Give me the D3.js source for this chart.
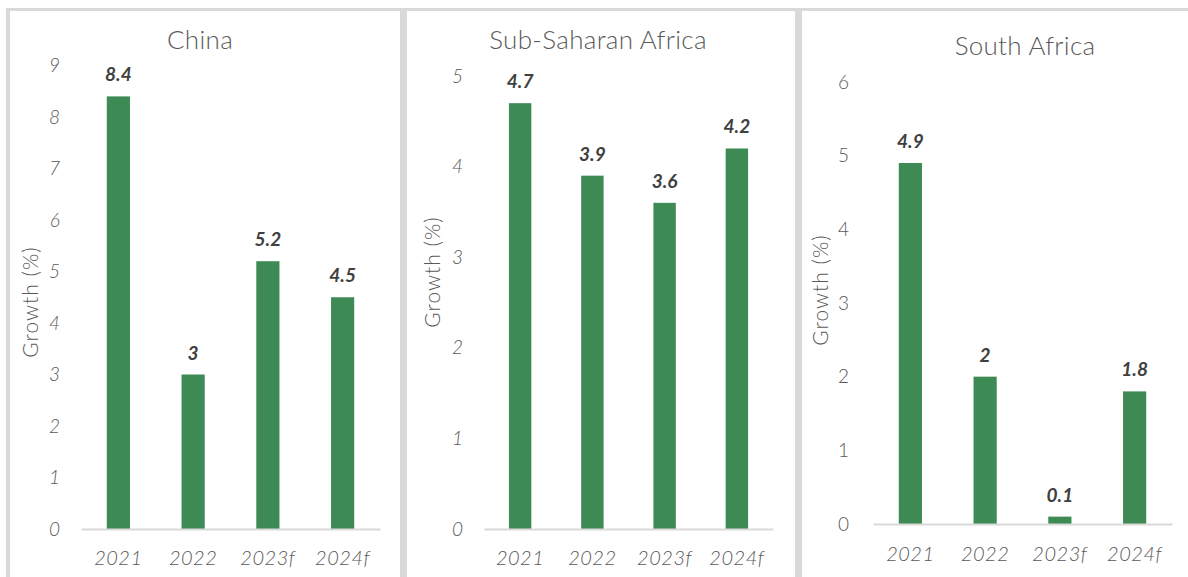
<!DOCTYPE html>
<html>
<head>
<meta charset="utf-8">
<script src="https://cdn.jsdelivr.net/npm/d3@7"></script>
<style>
  html, body { margin: 0; padding: 0; background: #ffffff; }
  svg { display: block; }
</style>
</head>
<body>
<svg id="chart" width="1188" height="577"></svg>
<script>
// ---- data ----
const categories = ["2021", "2022", "2023f", "2024f"];
const panelTitles = ["China", "Sub-Saharan Africa", "South Africa"];
const chinaValues = [8.4, 3, 5.2, 4.5];
const ssaValues = [4.7, 3.9, 3.6, 4.2];
const southAfricaValues = [4.9, 2, 0.1, 1.8];
const chinaTicks = [0, 1, 2, 3, 4, 5, 6, 7, 8, 9];
const ssaTicks = [0, 1, 2, 3, 4, 5];
const southAfricaTicks = [0, 1, 2, 3, 4, 5, 6];
const yAxisTitle = "Growth (%)";

// ---- layout (styles/positions) ----
const layouts = [
  { x0: 81, x1: 380, y0: 529, yMaxPx: 65.5, max: 9, tickItalic: true, tickX: 60, ytX: 38, ytY: 302, titleX: 200, titleY: 49, xlabY: 565 },
  { x0: 484, x1: 773, y0: 529, yMaxPx: 76, max: 5, tickItalic: true, tickX: 463, ytX: 440, ytY: 272, titleX: 598, titleY: 49, xlabY: 565 },
  { x0: 873, x1: 1172, y0: 524, yMaxPx: 82, max: 6, tickItalic: false, tickX: 849, ytX: 828, ytY: 290, titleX: 1025, titleY: 55, xlabY: 561 }
];
const seriesList = [chinaValues, ssaValues, southAfricaValues];
const tickList = [chinaTicks, ssaTicks, southAfricaTicks];

const FONT = "Lato, 'Open Sans', sans-serif";
const GREEN = "#3d8a55";
const TEXT = "#595959";
const GRID = "#d9d9d9";

const svg = d3.select("#chart");

// panel frame: light gray separators
svg.append("rect").attr("x", 6).attr("y", 8).attr("width", 1182).attr("height", 3).attr("fill", GRID);
svg.append("rect").attr("x", 6).attr("y", 8).attr("width", 4).attr("height", 569).attr("fill", GRID);
svg.append("rect").attr("x", 400).attr("y", 8).attr("width", 7).attr("height", 569).attr("fill", GRID);
svg.append("rect").attr("x", 795).attr("y", 8).attr("width", 7).attr("height", 569).attr("fill", GRID);

layouts.forEach((L, i) => {
  const values = seriesList[i];
  const ticks = tickList[i];
  const g = svg.append("g");

  const x = d3.scaleBand().domain(categories).range([L.x0, L.x1]).paddingInner(0.69).paddingOuter(0.345);
  const y = d3.scaleLinear().domain([0, L.max]).range([L.y0, L.yMaxPx]);

  // title
  g.append("text")
    .attr("x", L.titleX).attr("y", L.titleY)
    .attr("text-anchor", "middle")
    .attr("font-family", FONT).attr("font-size", 26).attr("font-weight", 300)
    .attr("letter-spacing", 0.3)
    .attr("fill", TEXT)
    .text(panelTitles[i]);

  // y axis tick labels
  const yAxis = d3.axisLeft(y).tickValues(ticks).tickSize(0).tickPadding(0).tickFormat(d3.format("d"));
  const ya = g.append("g").attr("transform", `translate(${L.tickX},0)`).call(yAxis);
  ya.select(".domain").remove();
  ya.selectAll("text")
    .attr("font-family", FONT).attr("font-size", 19).attr("font-weight", 300)
    .attr("font-style", L.tickItalic ? "italic" : "normal")
    .attr("fill", TEXT);

  // y axis title
  g.append("text")
    .attr("transform", `translate(${L.ytX},${L.ytY}) rotate(-90)`)
    .attr("text-anchor", "middle")
    .attr("font-family", FONT).attr("font-size", 21).attr("font-weight", 300)
    .attr("letter-spacing", 1)
    .attr("fill", TEXT)
    .text(yAxisTitle);

  // bars
  g.selectAll("rect.bar").data(values).enter().append("rect")
    .attr("class", "bar")
    .attr("x", (d, j) => x(categories[j]))
    .attr("y", d => y(d))
    .attr("width", x.bandwidth())
    .attr("height", d => y(0) - y(d))
    .attr("fill", GREEN);

  // baseline / x axis
  const xAxis = d3.axisBottom(x).tickSize(0).tickPadding(0);
  const xa = g.append("g").attr("transform", `translate(0,${L.y0})`).call(xAxis);
  xa.select(".domain").attr("stroke", GRID).attr("stroke-width", 2);
  xa.selectAll("text")
    .attr("dy", null)
    .attr("y", L.xlabY - L.y0)
    .attr("font-family", FONT).attr("font-size", 20).attr("font-weight", 300)
    .attr("font-style", "italic")
    .attr("letter-spacing", 0.5)
    .attr("fill", TEXT);

  // value labels
  g.selectAll("text.val").data(values).enter().append("text")
    .attr("class", "val")
    .attr("x", (d, j) => x(categories[j]) + x.bandwidth() / 2)
    .attr("y", d => y(d) - 15)
    .attr("text-anchor", "middle")
    .attr("font-family", "Lato, 'Liberation Sans', sans-serif")
    .attr("font-size", 19).attr("font-weight", "bold").attr("font-style", "italic")
    .attr("fill", "#404040")
    .text(d => d);
});
</script>
</body>
</html>
